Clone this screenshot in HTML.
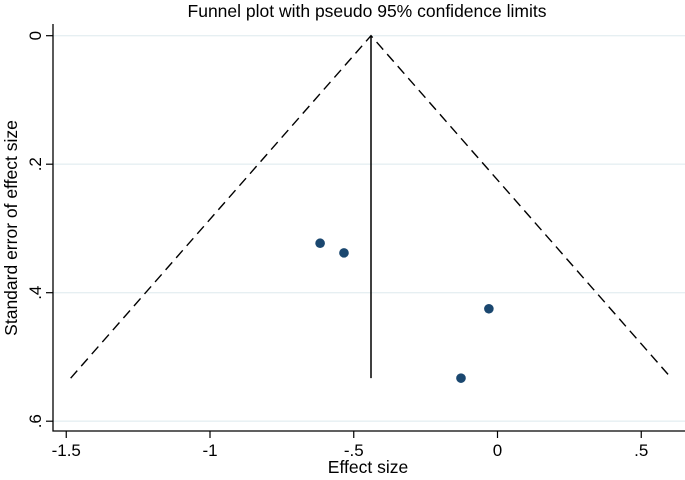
<!DOCTYPE html>
<html><head><meta charset="utf-8"><style>
html,body{margin:0;padding:0;background:#fff;}
svg{display:block;font-family:"Liberation Sans",Arial,sans-serif;}
</style></head><body>
<svg id="chart" width="685" height="480" viewBox="0 0 685 480" xmlns="http://www.w3.org/2000/svg">
<text x="367" y="17" font-size="17.5" text-anchor="middle" fill="#000">Funnel plot with pseudo 95% confidence limits</text>
<g id="grid"></g>
<g id="funnel"></g>
<g id="points"></g>
<g id="axes"></g>
<text x="368" y="473" font-size="17.5" text-anchor="middle">Effect size</text>
<text transform="translate(17,228) rotate(-90)" font-size="17.5" text-anchor="middle">Standard error of effect size</text>
</svg>
<script>
const effects=[-0.617,-0.534,-0.03,-0.127];
const ses=[0.323,0.338,0.425,0.533];
const pooled=-0.44;
const maxSE=0.533;
const xTicks=[-1.5,-1,-0.5,0,0.5];
const xTickLabels=["-1.5","-1","-.5","0",".5"];
const yTicks=[0,0.2,0.4,0.6];
const yTickLabels=["0",".2",".4",".6"];

const NS="http://www.w3.org/2000/svg";
const X=v=>497.5+v*287.5;
const Y=v=>35.7+v*642.5;
function mk(tag,attrs,parent){const e=document.createElementNS(NS,tag);for(const k in attrs)e.setAttribute(k,attrs[k]);document.getElementById(parent).appendChild(e);return e;}
const L=53,R=685,T=24,B=431;
yTicks.forEach((t,i)=>{
  const g=mk('line',{x1:L,x2:R,y1:Y(t),y2:Y(t),stroke:'#e6eff2','stroke-width':1.3},'grid');
  
  
  const tk=mk('line',{x1:L-7,x2:L,y1:Y(t),y2:Y(t),stroke:'#000','stroke-width':1.2},'axes');
  
  
  const tx=mk('text',{transform:`translate(${L-12},${Y(t)}) rotate(-90)`,'font-size':17,'text-anchor':'middle'},'axes');
  tx.textContent=yTickLabels[i];
  
  
});
xTicks.forEach((t,i)=>{
  const tk=mk('line',{x1:X(t),x2:X(t),y1:B,y2:B+7,stroke:'#000','stroke-width':1.2},'axes');
  
  
  const tx=mk('text',{x:X(t),y:B+25,'font-size':17,'text-anchor':'middle'},'axes');
  tx.textContent=xTickLabels[i];
  
  
});
const ax=mk('path',{d:`M${L},${T} V${B} H${R}`,fill:'none',stroke:'#000','stroke-width':1.3},'axes');


const lo=pooled-1.96*maxSE, hi=pooled+1.96*maxSE;
const f=mk('path',{d:`M${X(lo)},${Y(maxSE)} L${X(pooled)},${Y(0)} L${X(hi)},${Y(maxSE)}`,fill:'none',stroke:'#000','stroke-width':1.4,'stroke-dasharray':'10,6'},'funnel');


const v=mk('line',{x1:X(pooled),x2:X(pooled),y1:Y(0),y2:Y(maxSE),stroke:'#000','stroke-width':1.5},'funnel');


effects.forEach((e,i)=>{
  const c=mk('circle',{cx:X(e),cy:Y(ses[i]),r:4.8,fill:'#1a476f'},'points');
  
  
});
</script>
</body></html>
